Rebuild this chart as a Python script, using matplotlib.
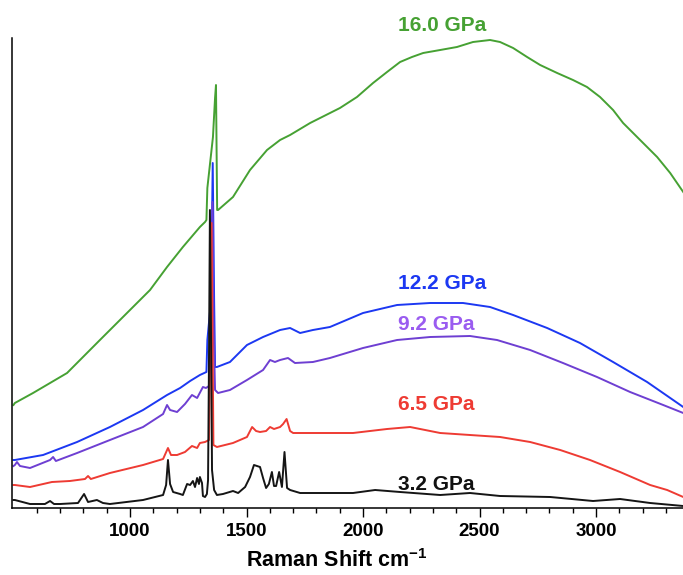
import matplotlib
matplotlib.use('Agg')
import matplotlib.pyplot as plt
from matplotlib.ticker import FixedLocator

plt.rcParams['font.family'] = ['Liberation Sans', 'DejaVu Sans']
plt.rcParams['mathtext.fontset'] = 'custom'
plt.rcParams['mathtext.rm'] = 'Liberation Sans'
plt.rcParams['mathtext.bf'] = 'Liberation Sans:bold'

# Raman shift (cm-1) and intensity (a.u.)
x_3_2 = [500, 506, 571, 635, 657, 674, 700, 777, 803, 820, 858, 884, 914, 1056, 1142, 1155, 1163,
         1172, 1185, 1215, 1227, 1245, 1258, 1270, 1279, 1288, 1296, 1300, 1309, 1313, 1322, 1330,
         1335, 1339, 1343, 1348, 1352, 1361, 1373, 1399, 1442, 1464, 1494, 1515, 1532, 1545, 1558,
         1571, 1584, 1596, 1609, 1618, 1627, 1640, 1652, 1663, 1674, 1687, 1730, 1901, 1957, 2052,
         2159, 2331, 2459, 2588, 2803, 2987, 3103, 3232, 3374]
i_3_2 = [8, 8, 4, 4, 7, 4, 4, 5, 14, 6, 8, 5, 4, 8, 13, 23, 48,
         24, 16, 14, 13, 24, 23, 27, 21, 30, 24, 31, 25, 12, 11, 14,
         28, 148, 298, 168, 38, 18, 13, 14, 17, 15, 21, 31, 43, 42, 41,
         30, 20, 24, 36, 22, 22, 36, 21, 56, 20, 18, 15, 15, 15, 18,
         16, 13, 15, 12, 11, 7, 9, 5, 2]

x_6_5 = [500, 506, 571, 665, 742, 807, 820, 832, 914, 1056, 1142, 1163, 1176, 1202, 1236, 1266,
         1288, 1300, 1322, 1339, 1345, 1350, 1354, 1358, 1373, 1442, 1502, 1524, 1541, 1558, 1584,
         1601, 1618, 1644, 1657, 1672, 1687, 1700, 1785, 1957, 2103, 2202, 2331, 2459, 2588, 2717,
         2846, 2974, 3103, 3232, 3305, 3374]
i_6_5 = [23, 23, 21, 26, 27, 29, 32, 29, 35, 43, 49, 60, 53, 53, 56, 62,
         60, 65, 66, 68, 178, 285, 178, 63, 61, 65, 71, 81, 77, 76, 77,
         81, 79, 81, 84, 89, 77, 75, 75, 75, 79, 81, 75, 73, 71, 66,
         58, 48, 36, 23, 18, 11]

x_9_2 = [500, 506, 515, 528, 571, 657, 670, 682, 773, 914, 1056, 1142, 1159, 1172, 1202, 1236,
         1266, 1288, 1313, 1326, 1339, 1348, 1354, 1358, 1365, 1378, 1429, 1502, 1571, 1601, 1622,
         1644, 1678, 1708, 1785, 1858, 2000, 2146, 2288, 2459, 2575, 2717, 2858, 3004, 3146, 3288,
         3374]
i_9_2 = [42, 43, 46, 42, 40, 48, 51, 47, 55, 68, 81, 94, 103, 98, 96, 104,
         113, 110, 121, 120, 122, 188, 306, 188, 118, 115, 118, 128, 138, 148, 146,
         148, 150, 145, 146, 150, 160, 168, 171, 172, 168, 158, 145, 131, 116, 103,
         95]

x_12_2 = [500, 506, 627, 773, 914, 1056, 1159, 1215, 1258, 1300, 1328, 1332, 1348, 1355, 1361,
          1365, 1373, 1429, 1502, 1571, 1644, 1687, 1730, 1785, 1858, 2000, 2146, 2288, 2429,
          2545, 2644, 2790, 2931, 3073, 3219, 3374]
i_12_2 = [48, 48, 53, 66, 81, 98, 113, 120, 127, 133, 136, 168, 208, 345, 208,
          141, 141, 146, 163, 171, 178, 180, 175, 178, 181, 195, 203, 205, 205,
          201, 193, 180, 165, 146, 126, 101]

x_16_0 = [500, 506, 584, 730, 871, 1086, 1159, 1227, 1300, 1322, 1328, 1332, 1356, 1365, 1369,
          1374, 1378, 1442, 1515, 1588, 1644, 1687, 1773, 1901, 1974, 2043, 2103, 2159, 2210,
          2258, 2331, 2403, 2472, 2545, 2588, 2644, 2704, 2760, 2833, 2901, 2961, 3017, 3073,
          3116, 3189, 3262, 3318, 3374]
i_16_0 = [103, 105, 115, 135, 168, 218, 241, 261, 281, 286, 288, 320, 371, 410, 423,
          298, 298, 311, 338, 358, 368, 373, 385, 400, 411, 425, 436, 446, 451,
          455, 458, 461, 466, 468, 466, 460, 451, 443, 435, 428, 421, 411, 398,
          385, 368, 351, 335, 316]

pressures = ['3.2 GPa', '6.5 GPa', '9.2 GPa', '12.2 GPa', '16.0 GPa']
label_y = [23, 103, 184, 224, 482]
line_colors = ['#151515', '#ee3b33', '#6e3fd2', '#1c38f2', '#46a133']
text_colors = ['#111111', '#ee3b33', '#9a5cf0', '#1c38f2', '#46a133']

major_ticks = [1000, 1500, 2000, 2500, 3000]
minor_ticks = [600, 700, 800, 900, 1100, 1200, 1300, 1400, 1600, 1700, 1800, 1900,
               2100, 2200, 2300, 2400, 2600, 2700, 2800, 2900, 3100, 3200, 3300]

spectra = [(x_3_2, i_3_2), (x_6_5, i_6_5), (x_9_2, i_9_2), (x_12_2, i_12_2), (x_16_0, i_16_0)]

fig = plt.figure(figsize=(6.83, 5.75), dpi=100)
ax = fig.add_axes([12.3 / 683, 67 / 575, 670.7 / 683, 470 / 575])

# draw green first so the lower spectra sit on top of it
for k in [4, 3, 2, 1, 0]:
    xs, ys = spectra[k]
    ax.plot(xs, ys, color=line_colors[k], lw=1.4)

for k in range(5):
    ax.text(2150, label_y[k], pressures[k], color=text_colors[k], fontsize=15,
            fontweight='bold', ha='left', va='center')

ax.set_xlim(495, 3373)
ax.set_ylim(0, 470)
ax.set_yticks([])
ax.spines['top'].set_visible(False)
ax.spines['right'].set_visible(False)
ax.spines['left'].set_linewidth(1.1)
ax.spines['bottom'].set_linewidth(1.1)

ax.xaxis.set_major_locator(FixedLocator(major_ticks))
ax.xaxis.set_minor_locator(FixedLocator(minor_ticks))
ax.tick_params(axis='x', which='major', direction='out', length=6.5, width=1.0,
               labelsize=13.5, pad=4)
ax.tick_params(axis='x', which='minor', direction='out', length=3.6, width=1.0)
for lab in ax.get_xticklabels():
    lab.set_fontweight('bold')

fig.text(337 / 683, 14 / 575, r'Raman Shift cm$^{\mathbf{-1}}$', fontsize=15.5,
         fontweight='bold', ha='center', va='center')

fig.savefig('out.png', dpi=100)
